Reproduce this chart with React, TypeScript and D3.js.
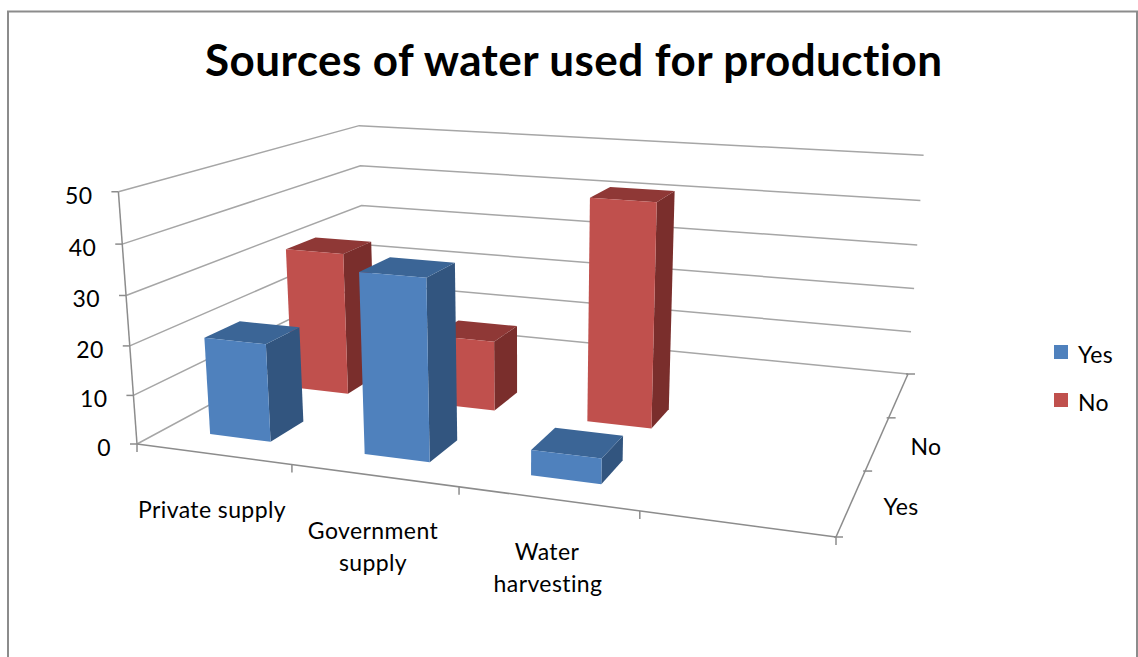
import React from "react";
import * as d3 from "d3";

// Chart values
const categories = ["Private supply", "Government supply", "Water harvesting", ""];
const seriesNames = ["Yes", "No", ""];
const yesValues = [20, 36, 5];
const noValues = [31, 15, 46.5];
const valueTicks = [0, 10, 20, 30, 40, 50];

const BLUE = { front: "#4f81bd", top: "#3b6596", side: "#32557f" };
const RED = { front: "#c0504d", top: "#8f3836", side: "#7a2e2c" };
const GRID = "#a6a6a6";
const FONT = "Lato, 'Open Sans', sans-serif";

type Pt = [number, number];
type Homog = [number, number, number];

// Perspective map from the unit square to a quadrilateral (front-left, front-right, back-right, back-left).
// Returns homogeneous coordinates so a vertical offset can be added before dividing.
function quadMap(p0: Pt, p1: Pt, p2: Pt, p3: Pt) {
  const dx1 = p1[0] - p2[0], dx2 = p3[0] - p2[0], sx = p0[0] - p1[0] + p2[0] - p3[0];
  const dy1 = p1[1] - p2[1], dy2 = p3[1] - p2[1], sy = p0[1] - p1[1] + p2[1] - p3[1];
  const den = dx1 * dy2 - dx2 * dy1;
  const g = (sx * dy2 - dx2 * sy) / den;
  const h = (dx1 * sy - sx * dy1) / den;
  const a = p1[0] - p0[0] + g * p1[0], b = p3[0] - p0[0] + h * p3[0];
  const d = p1[1] - p0[1] + g * p1[1], e = p3[1] - p0[1] + h * p3[1];
  return (u: number, w: number): Homog => [a * u + b * w + p0[0], d * u + e * w + p0[1], g * u + h * w + 1];
}

const floor = quadMap([137, 444], [836, 537], [908, 374], [365, 321]);
// Homogeneous direction of the vertical axis in the plot box's camera.
const rise: Homog = [-24, -261, -0.0456];

const yScale = d3.scaleLinear().domain([0, 50]).range([0, 1]);
const xBand = d3.scaleBand().domain(categories).range([0, 1]).paddingInner(0.6).paddingOuter(0.3);
const zBand = d3.scaleBand().domain(seriesNames).range([0, 1]).paddingInner(0.6).paddingOuter(0.3);

// Plot-box coordinates (along the categories, into the depth, value) to screen.
function project(u: number, w: number, value: number): Pt {
  const f = floor(u, w), t = yScale(value);
  const q = f[2] + rise[2] * t;
  return [(f[0] + rise[0] * t) / q, (f[1] + rise[1] * t) / q];
}

const line = d3.line<Pt>();
const closed = (pts: Pt[]) => line(pts) + "Z";

function Bar({ category, series, value, colors }: { category: string; series: string; value: number; colors: typeof BLUE }) {
  const u0 = xBand(category)!, u1 = u0 + xBand.bandwidth();
  const w0 = zBand(series)!, w1 = w0 + zBand.bandwidth();
  const side = [project(u1, w0, 0), project(u1, w1, 0), project(u1, w1, value), project(u1, w0, value)];
  const top = [project(u0, w0, value), project(u1, w0, value), project(u1, w1, value), project(u0, w1, value)];
  const front = [project(u0, w0, 0), project(u1, w0, 0), project(u1, w0, value), project(u0, w0, value)];
  return (
    <g>
      <path d={closed(side)} fill={colors.side} />
      <path d={closed(top)} fill={colors.top} />
      <path d={closed(front)} fill={colors.front} />
    </g>
  );
}

function Label({ x, y, children, anchor = "middle" }: any) {
  return (
    <text x={x} y={y} textAnchor={anchor} fontFamily={FONT} fontSize={23} letterSpacing={0.4} fill="#000" style={{ fontVariantLigatures: "none" }}>
      {children}
    </text>
  );
}

export default function App() {
  const gridLines = valueTicks.map((v) => [project(0, 0, v), project(0, 1, v), project(1, 1, v)] as Pt[]);
  const axisColor = "#8c8c8c";
  const catTicks = d3.range(categories.length + 1).map((i) => project(i / categories.length, 0, 0));
  const depthTicks = d3.range(seriesNames.length + 1).map((i) => project(1, i / seriesNames.length, 0));
  const valueAxis = [project(0, 0, 0), project(0, 0, 50)];
  const floorFront = [project(0, 0, 0), project(1, 0, 0)];
  const floorSide = [project(1, 0, 0), project(1, 1, 0)];
  const rows = [
    { name: "No", values: noValues, colors: RED },
    { name: "Yes", values: yesValues, colors: BLUE },
  ];

  return (
    <svg width={1138} height={657} style={{ position: "absolute", left: 0, top: 0, display: "block", background: "#fff" }}>
      <path d="M8,657V11.5H1137V657" fill="none" stroke="#8c8c8c" strokeWidth={2} />
      <text x={573.5} y={76} textAnchor="middle" fontFamily={FONT} fontWeight={700} fontSize={44} textLength={737} lengthAdjust="spacing" fill="#000" style={{ fontVariantLigatures: "none" }}>
        Sources of water used for production
      </text>

      {gridLines.map((pts, i) => (
        <path key={i} d={line(pts)!} fill="none" stroke={GRID} strokeWidth={1.5} />
      ))}

      <g fill="none" stroke={axisColor} strokeWidth={1.5}>
        <path d={line(valueAxis)!} />
        <path d={line(floorFront)!} />
        <path d={line(floorSide)!} />
        {valueTicks.map((v) => {
          const p = project(0, 0, v);
          return <path key={v} d={`M${p[0] - 7},${p[1]}H${p[0]}`} />;
        })}
        {catTicks.map((p, i) => (
          <path key={i} d={`M${p[0]},${p[1]}v8`} />
        ))}
        {depthTicks.map((p, i) => (
          <path key={i} d={`M${p[0] - 2},${p[1]}h9`} />
        ))}
      </g>

      {rows.map((row) =>
        row.values.map((v, i) => (
          <Bar key={row.name + i} category={categories[i]} series={row.name} value={v} colors={row.colors} />
        ))
      )}

      {valueTicks.map((v) => {
        const p = project(0, 0, v);
        return (
          <Label key={v} x={p[0] - 26} y={p[1] + 12} anchor="end">
            {v}
          </Label>
        );
      })}

      <Label x={212} y={518}>Private supply</Label>
      <Label x={373} y={539}>Government</Label>
      <Label x={373} y={571}>supply</Label>
      <Label x={547} y={560}>Water</Label>
      <Label x={548} y={592}>harvesting</Label>

      <Label x={901} y={515}>Yes</Label>
      <Label x={926} y={455}>No</Label>

      <rect x={1054} y={345} width={14} height={14} fill={BLUE.front} />
      <rect x={1054} y={393} width={14} height={14} fill={RED.front} />
      <Label x={1078} y={363} anchor="start">Yes</Label>
      <Label x={1078} y={411} anchor="start">No</Label>
    </svg>
  );
}
